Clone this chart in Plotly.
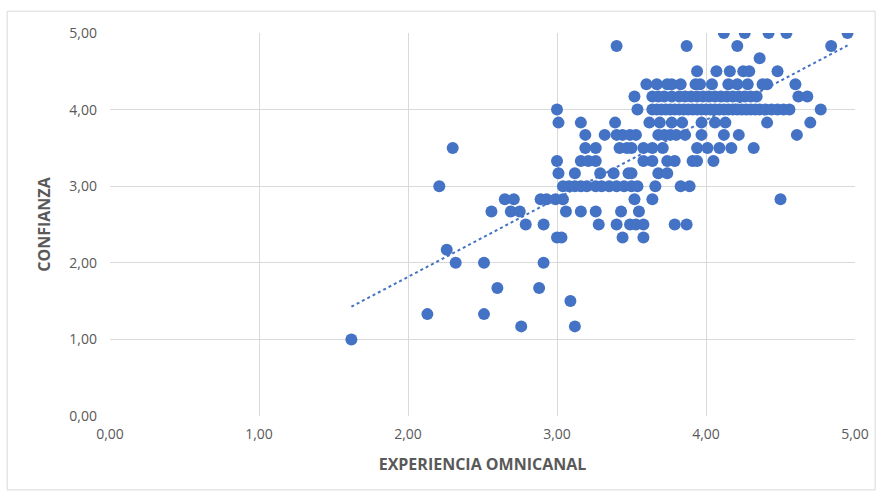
import numpy as np
import plotly.graph_objects as go

EXPERIENCIA = [
    4.12, 4.26, 4.42, 4.54, 4.95,
    3.40, 3.87, 4.21, 4.84,
    4.36,
    3.94, 4.07, 4.16, 4.25, 4.29, 4.48,
    3.60, 3.67, 3.74, 3.77, 3.83, 3.93, 3.96, 4.04, 4.15, 4.21, 4.28, 4.38, 4.41, 4.60,
    3.52, 3.64, 3.68, 3.72, 3.77, 3.82, 3.86, 3.90, 3.94, 3.98, 4.02, 4.06, 4.10, 4.14,
    4.18, 4.22, 4.26, 4.30, 4.34, 4.62, 4.68,
    3.00, 3.54, 3.64, 3.67, 3.70, 3.73, 3.76, 3.79, 3.82, 3.85, 3.88, 3.91, 3.94, 3.97, 4.00,
    4.03, 4.06, 4.09, 4.12, 4.15, 4.18, 4.21, 4.24, 4.27, 4.30, 4.33, 4.36, 4.40, 4.44,
    4.48, 4.52, 4.56, 4.77,
    3.01, 3.16, 3.39, 3.62, 3.69, 3.77, 3.84, 3.97, 4.06, 4.13, 4.41, 4.70,
    3.19, 3.32, 3.40, 3.44, 3.49, 3.53, 3.68, 3.72, 3.76, 3.80, 3.86, 3.97, 4.12, 4.22, 4.61,
    2.30, 3.19, 3.26, 3.42, 3.47, 3.50, 3.58, 3.64, 3.71, 3.94, 4.01, 4.09, 4.17, 4.32,
    3.00, 3.16, 3.21, 3.26, 3.58, 3.64, 3.74, 3.79, 3.91, 3.94, 4.05,
    3.01, 3.12, 3.29, 3.38, 3.48, 3.50, 3.68, 3.74,
    2.21, 3.04, 3.08, 3.12, 3.16, 3.20, 3.26, 3.30, 3.35, 3.40, 3.45, 3.50, 3.54, 3.66, 3.83, 3.89,
    2.65, 2.71, 2.89, 2.93, 2.99, 3.04, 3.52, 3.64, 4.50,
    2.56, 2.69, 2.75, 3.06, 3.16, 3.26, 3.43, 3.55,
    2.79, 2.91, 3.28, 3.40, 3.49, 3.53, 3.58, 3.79, 3.87,
    3.00, 3.03, 3.44, 3.58,
    2.26,
    2.32, 2.51, 2.91,
    2.60, 2.88,
    3.09,
    2.13, 2.51,
    2.76, 3.12,
    1.62,
]
CONFIANZA = (
    [5.00] * 5 + [4.83] * 4 + [4.67] * 1 + [4.50] * 6 + [4.33] * 14 + [4.17] * 21
    + [4.00] * 33 + [3.83] * 12 + [3.67] * 15 + [3.50] * 14 + [3.33] * 11 + [3.17] * 8
    + [3.00] * 16 + [2.83] * 9 + [2.67] * 8 + [2.50] * 9 + [2.33] * 4 + [2.17] * 1
    + [2.00] * 3 + [1.67] * 2 + [1.50] * 1 + [1.33] * 2 + [1.17] * 2 + [1.00] * 1
)

X_TITLE = "EXPERIENCIA OMNICANAL"
Y_TITLE = "CONFIANZA"
TICK_VALUES = [0, 1, 2, 3, 4, 5]

x = np.array(EXPERIENCIA)
y = np.array(CONFIANZA)
slope, intercept = np.polyfit(x, y, 1)
trend_x = np.array([x.min(), x.max()])
trend_y = slope * trend_x + intercept

BLUE = "#4472C4"
GRID = "#D9D9D9"
TEXT = "#595959"
FONT = "Liberation Sans Narrow, Open Sans, sans-serif"

fig = go.Figure()
fig.add_trace(go.Scatter(
    x=x, y=y, mode="markers",
    marker=dict(color=BLUE, size=12, line=dict(width=0)),
    showlegend=False, hoverinfo="x+y",
))
fig.add_trace(go.Scatter(
    x=trend_x, y=trend_y, mode="lines",
    line=dict(color=BLUE, width=2, dash="dot"),
    showlegend=False, hoverinfo="skip",
))

axis_common = dict(
    range=[0, 5], tickvals=TICK_VALUES, tickformat=".2f",
    showgrid=True, gridcolor=GRID, gridwidth=1,
    zeroline=False, showline=False, ticks="",
    tickfont=dict(family=FONT, size=14, color=TEXT),
    fixedrange=True,
)

fig.update_layout(
    width=882, height=498,
    margin=dict(l=110, r=27, t=33, b=82),
    paper_bgcolor="white", plot_bgcolor="white",
    separators=",.",
    xaxis=dict(**axis_common,
               title=dict(text=X_TITLE, standoff=16,
                          font=dict(family=FONT, size=16, color=TEXT, weight="bold")),
               ticklabelstandoff=8),
    yaxis=dict(**axis_common,
               title=dict(text=Y_TITLE, standoff=14,
                          font=dict(family=FONT, size=16, color=TEXT, weight="bold")),
               ticklabelstandoff=12),
    shapes=[dict(type="rect", xref="paper", yref="paper",
                 x0=-0.138, x1=1.027, y0=-0.193, y1=1.057,
                 line=dict(color=GRID, width=1), fillcolor="rgba(0,0,0,0)", layer="below")],
)

fig.write_html("out.html", config={"displayModeBar": False},
               post_script="document.body.style.margin='0';document.body.style.overflow='hidden';")
